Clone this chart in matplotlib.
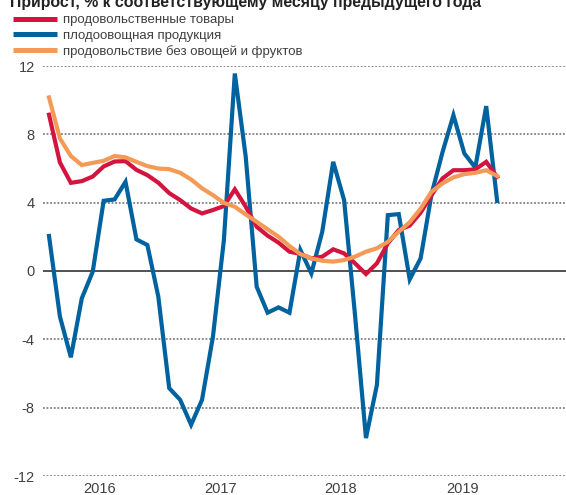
import matplotlib
matplotlib.use("Agg")
import matplotlib.pyplot as plt

plt.rcParams['font.family'] = ['Liberation Sans', 'DejaVu Sans']

# values, one point per period
food = [9.15, 6.35, 5.16, 5.26, 5.53, 6.12, 6.41, 6.43, 5.92, 5.61,
        5.17, 4.56, 4.15, 3.66, 3.37, 3.57, 3.80, 4.78, 3.76, 2.59,
        2.07, 1.66, 1.13, 1.00, 0.74, 0.84, 1.27, 1.03, 0.45, -0.18,
        0.45, 1.62, 2.40, 2.66, 3.42, 4.44, 5.42, 5.90, 5.90, 5.95,
        6.39, 5.51]
fruit_veg = [2.05, -2.67, -5.05, -1.60, -0.04, 4.11, 4.19, 5.22, 1.85, 1.52,
             -1.50, -6.86, -7.54, -9.00, -7.54, -3.84, 1.81, 11.56, 6.68, -0.92,
             -2.44, -2.13, -2.44, 1.23, -0.14, 2.30, 6.39, 4.15, -2.60, -9.78,
             -6.67, 3.27, 3.33, -0.49, 0.74, 4.50, 6.95, 9.12, 6.88, 6.05,
             9.65, 4.10]
food_ex_fv = [10.16, 7.76, 6.73, 6.20, 6.33, 6.45, 6.73, 6.65, 6.39, 6.14,
              6.00, 5.96, 5.75, 5.36, 4.84, 4.44, 3.99, 3.76, 3.31, 2.88,
              2.44, 2.01, 1.46, 0.99, 0.74, 0.60, 0.55, 0.64, 0.84, 1.13,
              1.33, 1.71, 2.30, 2.85, 3.65, 4.64, 5.13, 5.48, 5.67, 5.75,
              5.90, 5.56]

series_labels = ["продовольственные товары",
                 "плодоовощная продукция",
                 "продовольствие без овощей и фруктов"]
year_labels = ["2016", "2017", "2018", "2019"]
year_pos = [4.67, 15.7, 26.7, 37.8]
y_ticks = [-12, -8, -4, 0, 4, 8, 12]
title = "Прирост, % к соответствующему месяцу предыдущего года"

RED = "#D2143F"
BLUE = "#00629E"
ORANGE = "#F39A56"
TXT = "#404040"

fig = plt.figure(figsize=(5.66, 4.95), dpi=100)
ax = fig.add_axes([43 / 566, 1 - 476 / 495, 523 / 566, 410 / 495])

x = list(range(len(food)))

for yv in y_ticks:
    if yv == 0:
        ax.axhline(0, color="#333333", lw=1.2, zorder=1)
    else:
        ax.axhline(yv, color="#808080", lw=1.3, ls=(0, (1, 1)), zorder=1)

l_red, = ax.plot(x, food, color=RED, lw=3.0, zorder=3, solid_joinstyle="miter")
l_blue, = ax.plot(x, fruit_veg, color=BLUE, lw=3.0, zorder=2, solid_joinstyle="miter")
l_or, = ax.plot(x, food_ex_fv, color=ORANGE, lw=3.0, zorder=4, solid_joinstyle="miter")

ax.set_xlim(-0.549, 47.3)
ax.set_ylim(-12, 12)
ax.set_yticks(y_ticks)
ax.set_yticklabels([str(v) for v in y_ticks])
ax.set_xticks(year_pos)
ax.set_xticklabels(year_labels)
ax.tick_params(length=0, labelsize=10.5, colors=TXT)
ax.tick_params(axis="y", pad=6)
ax.tick_params(axis="x", pad=4)
for s in ax.spines.values():
    s.set_visible(False)
ax.patch.set_visible(False)

fig.text(10 / 566, 1 - 6.5 / 495, title, fontsize=11.4, fontweight="bold",
         color="#222222", va="baseline", ha="left")

leg = fig.legend([l_red, l_blue, l_or], series_labels, loc="upper left",
                 bbox_to_anchor=(9 / 566, 1 - 10 / 495), frameon=False,
                 fontsize=9.5, labelcolor=TXT, handlelength=3.33,
                 handletextpad=0.45, labelspacing=0.25, borderaxespad=0,
                 borderpad=0.3)
for h in leg.get_lines():
    h.set_linewidth(3.6)
    h.set_solid_capstyle("butt")

fig.savefig("out.png", dpi=100)
